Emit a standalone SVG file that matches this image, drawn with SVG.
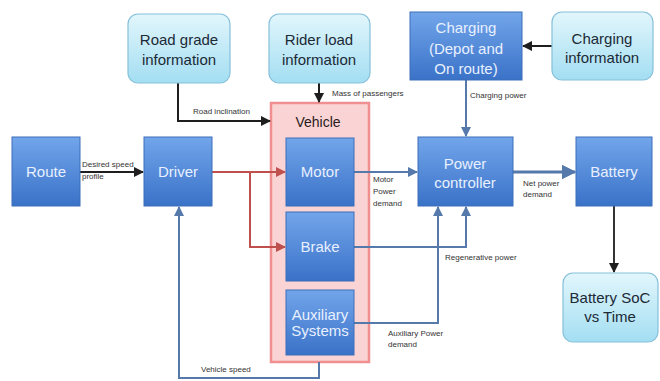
<svg xmlns="http://www.w3.org/2000/svg" width="660" height="381" viewBox="0 0 660 381">
<defs>
<linearGradient id="gBlue" x1="0" y1="0" x2="0" y2="1">
<stop offset="0" stop-color="#72a5ea"/><stop offset="1" stop-color="#3a72c8"/>
</linearGradient>
<linearGradient id="gCyan" x1="0" y1="0" x2="0" y2="1">
<stop offset="0" stop-color="#e2f6fc"/><stop offset="1" stop-color="#a3def2"/>
</linearGradient>
<marker id="aBlack" viewBox="0 0 10 10" refX="9" refY="5" markerWidth="5" markerHeight="5" orient="auto"><path d="M0,0 L10,5 L0,10 z" fill="#1e1e1e"/></marker>
<marker id="aRed" viewBox="0 0 10 10" refX="9" refY="5" markerWidth="5" markerHeight="5" orient="auto"><path d="M0,0 L10,5 L0,10 z" fill="#c0504d"/></marker>
<marker id="aBlue" viewBox="0 0 10 10" refX="9" refY="5" markerWidth="5" markerHeight="5" orient="auto"><path d="M0,0 L10,5 L0,10 z" fill="#5579aa"/></marker>
<style>
.blue{fill:url(#gBlue);stroke:#3d6fb8;stroke-width:1}
.cyan{fill:url(#gCyan);stroke:#86c0da;stroke-width:1.2}
.veh{fill:#fad4d4;stroke:#f08f8f;stroke-width:2.5}
.bt{font-family:"Liberation Sans",Arial,sans-serif;font-size:15px;fill:#e8f0ff;text-anchor:middle}
.ct{font-family:"Liberation Sans",Arial,sans-serif;font-size:15px;fill:#1c2a36;text-anchor:middle}
.vt{font-family:"Liberation Sans",Arial,sans-serif;font-size:14px;fill:#2a1a1a;text-anchor:middle}
.lb{font-family:"Liberation Sans",Arial,sans-serif;font-size:8px;fill:#333}
.k{fill:none;stroke:#1e1e1e;stroke-width:2;marker-end:url(#aBlack)}
.r{fill:none;stroke:#c0504d;stroke-width:2;marker-end:url(#aRed)}
.b{fill:none;stroke:#5579aa;stroke-width:2;marker-end:url(#aBlue)}
</style>
</defs>
<rect width="660" height="381" fill="#ffffff"/>

<g id="vehicle">
<rect class="veh" x="271" y="103" width="98" height="259"/>
<text class="vt" x="318" y="127">Vehicle</text>
</g>

<g id="connectors">
<path class="k" d="M178 83 V121 H270"/>
<path class="k" d="M319 83 V102"/>
<path class="k" d="M552 46 H523"/>
<path class="b" d="M466 80 V136"/>
<path class="k" d="M80 172 H143"/>
<path class="r" d="M212 172 H285"/>
<path class="r" d="M250 172 V247 H285"/>
<path class="b" d="M354 172 H417"/>
<path class="b" style="stroke-width:3" d="M513 172 H575"/>
<path class="b" d="M354 247 H466 V207"/>
<path class="b" d="M354 323 H438 V207"/>
<path class="k" style="stroke:#333" d="M614 206 V272"/>
<path class="b" d="M319 362 V378 H179 V207"/>
<text class="lb" x="193" y="114">Road inclination</text>
<text class="lb" x="332" y="96">Mass of passengers</text>
<text class="lb" x="470" y="98">Charging power</text>
<text class="lb" x="82" y="167">Desired speed</text>
<text class="lb" x="82" y="179">profile</text>
<text class="lb" x="373" y="182">Motor</text>
<text class="lb" x="373" y="194">Power</text>
<text class="lb" x="373" y="206">demand</text>
<text class="lb" x="523" y="186">Net power</text>
<text class="lb" x="523" y="197">demand</text>
<text class="lb" x="445" y="260">Regenerative power</text>
<text class="lb" x="388" y="336">Auxiliary Power</text>
<text class="lb" x="388" y="347">demand</text>
<text class="lb" x="201" y="372">Vehicle speed</text>
</g>

<g id="road-grade">
<rect class="cyan" x="128" y="14" width="102" height="69" rx="10"/>
<text class="ct" x="179" y="45">Road grade</text>
<text class="ct" x="179" y="65">information</text>
</g>
<g id="rider-load">
<rect class="cyan" x="269" y="14" width="101" height="69" rx="10"/>
<text class="ct" x="319" y="45">Rider load</text>
<text class="ct" x="319" y="65">information</text>
</g>
<g id="charging">
<rect class="blue" x="410" y="12" width="112" height="68"/>
<text class="bt" x="466" y="33">Charging</text>
<text class="bt" x="466" y="54">(Depot and</text>
<text class="bt" x="466" y="74">On route)</text>
</g>
<g id="charging-info">
<rect class="cyan" x="552" y="12" width="101" height="68" rx="10"/>
<text class="ct" x="602" y="44">Charging</text>
<text class="ct" x="602" y="63">information</text>
</g>
<g id="route">
<rect class="blue" x="12" y="137" width="68" height="69"/>
<text class="bt" x="46" y="177">Route</text>
</g>
<g id="driver">
<rect class="blue" x="144" y="137" width="68" height="69"/>
<text class="bt" x="178" y="177">Driver</text>
</g>
<g id="motor">
<rect class="blue" x="286" y="138" width="68" height="68"/>
<text class="bt" x="320" y="177">Motor</text>
</g>
<g id="brake">
<rect class="blue" x="286" y="212" width="68" height="69"/>
<text class="bt" x="320" y="252">Brake</text>
</g>
<g id="auxiliary">
<rect class="blue" x="286" y="290" width="68" height="65"/>
<text class="bt" x="320" y="320">Auxiliary</text>
<text class="bt" x="320" y="336">Systems</text>
</g>
<g id="power-controller">
<rect class="blue" x="418" y="137" width="95" height="69"/>
<text class="bt" x="465" y="169">Power</text>
<text class="bt" x="465" y="188">controller</text>
</g>
<g id="battery">
<rect class="blue" x="576" y="137" width="76" height="69"/>
<text class="bt" x="614" y="177">Battery</text>
</g>
<g id="battery-soc">
<rect class="cyan" x="563" y="273" width="95" height="69" rx="10"/>
<text class="ct" x="610" y="303">Battery SoC</text>
<text class="ct" x="610" y="322">vs Time</text>
</g>
</svg>
